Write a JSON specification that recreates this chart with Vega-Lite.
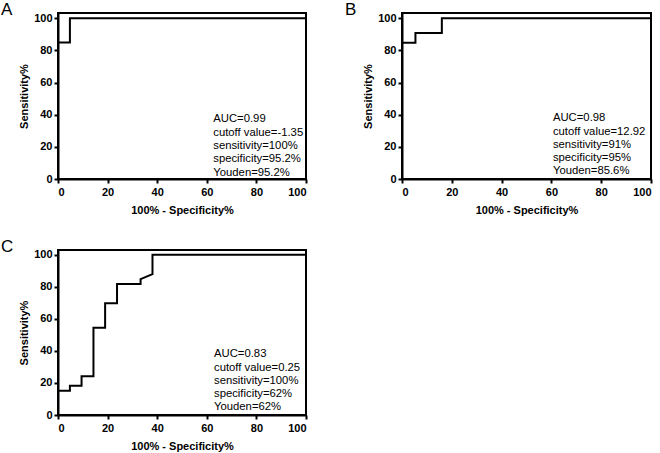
{
  "$schema": "https://vega.github.io/schema/vega-lite/v6.json",
  "padding": {"left": 0, "top": 0, "right": 0, "bottom": 0},
  "background": "white",
  "columns": 2,
  "spacing": {"column": 33, "row": 20},
  "config": {
    "font": "Liberation Sans",
    "view": {"stroke": "black", "strokeWidth": 2},
    "axis": {
      "domainColor": "black", "domainWidth": 2, "tickColor": "black", "tickWidth": 2, "tickSize": 4,
      "labelFont": "Liberation Sans", "labelFontSize": 11, "labelFontWeight": "bold", "labelColor": "black",
      "titleFont": "Liberation Sans", "titleFontSize": 11, "titleFontWeight": "bold", "titleColor": "black",
      "grid": false, "labelPadding": 2, "labelOverlap": false, "tickCount": 12
    },
    "axisX": {"titlePadding": 7, "labelPadding": 3},
    "axisY": {"titlePadding": 4},
    "title": {"font": "Liberation Sans", "fontSize": 17, "fontWeight": "normal", "anchor": "start", "frame": "group", "dx": -57, "offset": -7, "baseline": "alphabetic", "color": "black"}
  },
  "datasets": {
    "rocA": [
      {"step": 1, "fpr": 0, "sens": 85}, {"step": 2, "fpr": 4.8, "sens": 85},
      {"step": 3, "fpr": 4.8, "sens": 100}, {"step": 4, "fpr": 100, "sens": 100}
    ],
    "rocB": [
      {"step": 1, "fpr": 0, "sens": 84.8}, {"step": 2, "fpr": 5.4, "sens": 84.8},
      {"step": 3, "fpr": 5.4, "sens": 90.9}, {"step": 4, "fpr": 16, "sens": 90.9},
      {"step": 5, "fpr": 16, "sens": 100}, {"step": 6, "fpr": 100, "sens": 100}
    ],
    "rocC": [
      {"step": 1, "fpr": 0, "sens": 15.2}, {"step": 2, "fpr": 4.8, "sens": 15.2},
      {"step": 3, "fpr": 4.8, "sens": 18.2}, {"step": 4, "fpr": 9.5, "sens": 18.2},
      {"step": 5, "fpr": 9.5, "sens": 24.2}, {"step": 6, "fpr": 14.3, "sens": 24.2},
      {"step": 7, "fpr": 14.3, "sens": 54.5}, {"step": 8, "fpr": 19, "sens": 54.5},
      {"step": 9, "fpr": 19, "sens": 69.7}, {"step": 10, "fpr": 23.8, "sens": 69.7},
      {"step": 11, "fpr": 23.8, "sens": 81.8}, {"step": 12, "fpr": 33.3, "sens": 81.8},
      {"step": 13, "fpr": 33.3, "sens": 84.8}, {"step": 14, "fpr": 38.1, "sens": 87.9},
      {"step": 15, "fpr": 38.1, "sens": 100}, {"step": 16, "fpr": 100, "sens": 100}
    ],
    "noteA": [{"note": "AUC=0.99\ncutoff value=-1.35\nsensitivity=100%\nspecificity=95.2%\nYouden=95.2%"}],
    "noteB": [{"note": " AUC=0.98\ncutoff value=12.92\nsensitivity=91%\nspecificity=95%\nYouden=85.6%"}],
    "noteC": [{"note": " AUC=0.83\ncutoff value=0.25\nsensitivity=100%\nspecificity=62%\nYouden=62%"}]
  },
  "concat": [
    {
      "title": "A",
      "width": 248, "height": 166,
      "layer": [
        {
          "data": {"name": "rocA"},
          "mark": {"type": "line", "color": "black", "strokeWidth": 2, "interpolate": "linear"},
          "encoding": {
            "x": {"field": "fpr", "type": "quantitative", "title": "100% - Specificity%", "scale": {"domain": [0, 100], "nice": false}, "axis": {"values": [0, 20, 40, 60, 80, 100], "labelOverlap": false, "tickCount": 12}},
            "y": {"field": "sens", "type": "quantitative", "title": "Sensitivity%", "scale": {"domain": [0, 103.3], "nice": false}, "axis": {"values": [0, 20, 40, 60, 80, 100], "labelOverlap": false, "tickCount": 12}},
            "order": {"field": "step"}
          }
        },
        {
          "data": {"name": "noteA"},
          "mark": {"type": "text", "align": "left", "baseline": "alphabetic", "fontSize": 11.3, "lineHeight": 13.4, "lineBreak": "\n", "color": "black"},
          "encoding": {"x": {"datum": 62.6}, "y": {"datum": 35.3}, "text": {"field": "note"}}
        }
      ]
    },
    {
      "title": "B",
      "width": 249, "height": 166,
      "layer": [
        {
          "data": {"name": "rocB"},
          "mark": {"type": "line", "color": "black", "strokeWidth": 2, "interpolate": "linear"},
          "encoding": {
            "x": {"field": "fpr", "type": "quantitative", "title": "100% - Specificity%", "scale": {"domain": [0, 100], "nice": false}, "axis": {"values": [0, 20, 40, 60, 80, 100], "labelOverlap": false, "tickCount": 12}},
            "y": {"field": "sens", "type": "quantitative", "title": "Sensitivity%", "scale": {"domain": [0, 103.3], "nice": false}, "axis": {"values": [0, 20, 40, 60, 80, 100], "labelOverlap": false, "tickCount": 12}},
            "order": {"field": "step"}
          }
        },
        {
          "data": {"name": "noteB"},
          "mark": {"type": "text", "align": "left", "baseline": "alphabetic", "fontSize": 11.3, "lineHeight": 13.2, "lineBreak": "\n", "color": "black"},
          "encoding": {"x": {"datum": 60.6}, "y": {"datum": 35.8}, "text": {"field": "note"}}
        }
      ]
    },
    {
      "title": "C",
      "width": 248, "height": 165,
      "layer": [
        {
          "data": {"name": "rocC"},
          "mark": {"type": "line", "color": "black", "strokeWidth": 2, "interpolate": "linear"},
          "encoding": {
            "x": {"field": "fpr", "type": "quantitative", "title": "100% - Specificity%", "scale": {"domain": [0, 100], "nice": false}, "axis": {"values": [0, 20, 40, 60, 80, 100], "labelOverlap": false, "tickCount": 12}},
            "y": {"field": "sens", "type": "quantitative", "title": "Sensitivity%", "scale": {"domain": [0, 103], "nice": false}, "axis": {"values": [0, 20, 40, 60, 80, 100], "labelOverlap": false, "tickCount": 12}},
            "order": {"field": "step"}
          }
        },
        {
          "data": {"name": "noteC"},
          "mark": {"type": "text", "align": "left", "baseline": "alphabetic", "fontSize": 11.3, "lineHeight": 13.2, "lineBreak": "\n", "color": "black"},
          "encoding": {"x": {"datum": 62.9}, "y": {"datum": 36}, "text": {"field": "note"}}
        }
      ]
    }
  ]
}
